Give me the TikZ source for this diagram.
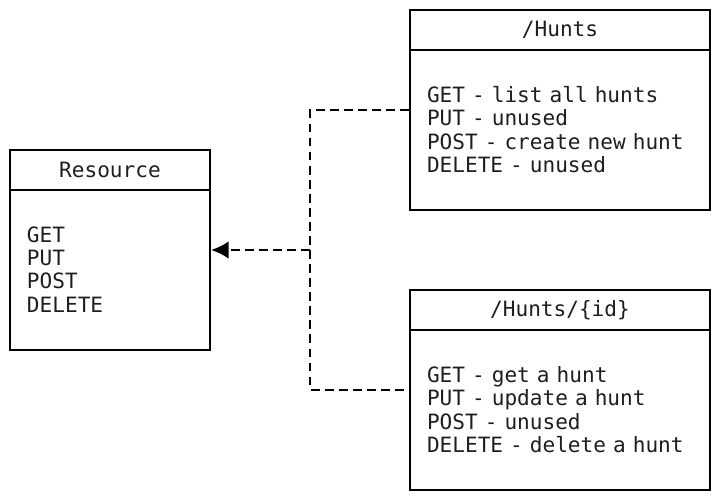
\documentclass[tikz,border=0pt]{standalone}
\usepackage{fontspec}
\setmonofont{DejaVu Sans Mono}
\usetikzlibrary{positioning}
\usetikzlibrary{arrows.meta}
\definecolor{ink}{RGB}{30,30,30}

\begin{document}
\begin{tikzpicture}[>={Latex[length=10pt,width=10pt]},
  font=\ttfamily\fontsize{12}{13.3}\selectfont, text=ink,
  cls/.style={draw, line width=1.3pt, minimum height=4cm, inner sep=0pt},
  title/.style={draw, line width=1.3pt, minimum height=0.8cm, inner sep=0pt, anchor=north},
  body/.style={minimum height=3.2cm, inner xsep=0.34cm, inner ysep=0pt, align=left, yshift=0.04cm},
  link/.style={line width=1.2pt, dash pattern=on 5pt off 3pt}]
\useasboundingbox (0,0) rectangle (14.4,10);

% resource class
\node [cls, minimum width=4cm] (res) at (2.2,5) {};
\node [title, minimum width=4cm] (res-t) at (res.north) {Resource};
\node [body, text width=3.32cm, below=0pt of res-t] (res-b) {GET\\PUT\\POST\\DELETE};

% /Hunts
\node [cls, minimum width=6cm] (hunts) at (11.2,7.8) {};
\node [title, minimum width=6cm] (hunts-t) at (hunts.north) {/Hunts};
\node [body, text width=5.32cm, below=0pt of hunts-t] (hunts-b) {GET - list all hunts\\PUT - unused\\POST - create new hunt\\DELETE - unused};

% /Hunts/{id}
\node [cls, minimum width=6cm] (hid) at (11.2,2.2) {};
\node [title, minimum width=6cm] (hid-t) at (hid.north) {/Hunts/\{id\}};
\node [body, text width=5.32cm, below=0pt of hid-t] (hid-b) {GET - get a hunt\\PUT - update a hunt\\POST - unused\\DELETE - delete a hunt};

% realisation lines
\coordinate (mid) at (6.2,5);
\draw [link] (hunts.west) -| (mid) |- (hid.west);
\draw [link,->] (mid) -- (res.east);

\end{tikzpicture}
\end{document}
